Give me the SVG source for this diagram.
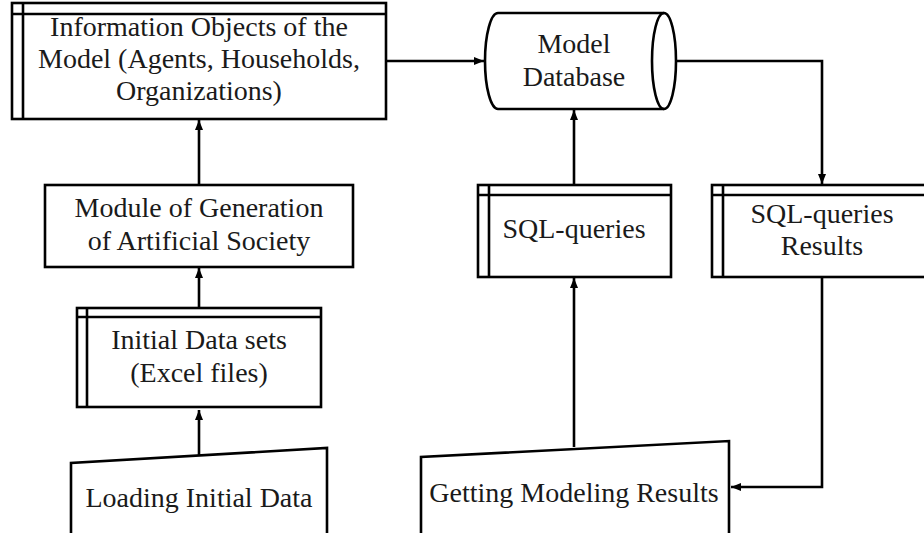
<svg xmlns="http://www.w3.org/2000/svg" width="924" height="533" viewBox="0 0 924 533">
<defs>
<style>
.s{fill:#fff;stroke:#000;stroke-width:2.6;stroke-linejoin:miter}
.l{fill:none;stroke:#000;stroke-width:2.6}
.t{font-family:"Liberation Serif","Times New Roman",serif;font-size:28px;fill:#1a1a1a;text-anchor:middle}
</style>
<marker id="ah" markerWidth="10" markerHeight="10" viewBox="0 0 10 10" refX="10" refY="5" orient="auto" markerUnits="userSpaceOnUse">
<path d="M0,1 L10,5 L0,9 Z" fill="#000"/>
</marker>
</defs>
<rect width="924" height="533" fill="#fff"/>
<g id="connectors">
<path class="l" d="M199,455 V410" marker-end="url(#ah)"/>
<path class="l" d="M199,308 V268" marker-end="url(#ah)"/>
<path class="l" d="M199,185 V120" marker-end="url(#ah)"/>
<path class="l" d="M386,61 H484" marker-end="url(#ah)"/>
<path class="l" d="M676,61 H822 V184" marker-end="url(#ah)"/>
<path class="l" d="M574,185 V110" marker-end="url(#ah)"/>
<path class="l" d="M574,447 V278" marker-end="url(#ah)"/>
<path class="l" d="M822,277 V487 H731" marker-end="url(#ah)"/>
</g>
<g id="info-objects">
<rect class="s" x="12" y="3" width="374" height="116"/>
<path class="l" d="M12,14 H386 M23,3 V119"/>
<text class="t" x="199" y="36">Information Objects of the</text>
<text class="t" x="199" y="68">Model (Agents, Households,</text>
<text class="t" x="199" y="100">Organizations)</text>
</g>
<g id="model-database">
<path class="s" d="M498,13 H664 A12,48 0 0 1 664,109 H498 A13,48 0 0 1 498,13 Z"/>
<path class="l" d="M664,13 A12,48 0 0 0 664,109"/>
<text class="t" x="574" y="53">Model</text>
<text class="t" x="574" y="86">Database</text>
</g>
<g id="module-generation">
<rect class="s" x="45" y="185" width="308" height="82"/>
<text class="t" x="199" y="217">Module of Generation</text>
<text class="t" x="199" y="250">of Artificial Society</text>
</g>
<g id="initial-data-sets">
<rect class="s" x="77" y="308" width="244" height="99"/>
<path class="l" d="M77,317 H321 M87,308 V407"/>
<text class="t" x="199" y="349">Initial Data sets</text>
<text class="t" x="199" y="382">(Excel files)</text>
</g>
<g id="loading-initial-data">
<path class="s" d="M71,540 V463 L327,448 V540"/>
<text class="t" x="199" y="507">Loading Initial Data</text>
</g>
<g id="sql-queries">
<rect class="s" x="478" y="185" width="193" height="92"/>
<path class="l" d="M478,195 H671 M489,185 V277"/>
<text class="t" x="574" y="238">SQL-queries</text>
</g>
<g id="sql-results">
<rect class="s" x="712" y="185" width="220" height="92"/>
<path class="l" d="M712,195 H932 M723,185 V277"/>
<text class="t" x="822" y="223">SQL-queries</text>
<text class="t" x="822" y="255">Results</text>
</g>
<g id="getting-results">
<path class="s" d="M421,540 V457 L729,441 V540"/>
<text class="t" x="574" y="502">Getting Modeling Results</text>
</g>
</svg>
